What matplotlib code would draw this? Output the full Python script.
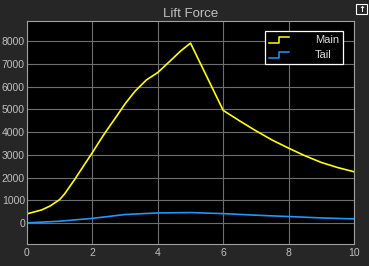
import numpy as np
import matplotlib
matplotlib.use("Agg")
import matplotlib.pyplot as plt
from matplotlib.legend_handler import HandlerBase
from matplotlib.lines import Line2D
from matplotlib.patches import Rectangle

# data
t_main = [0, 0.45, 0.7, 1.0, 1.15, 1.45, 1.75, 2.0, 2.2, 2.4, 2.7, 3.0, 3.3, 3.65,
          4.0, 4.35, 4.7, 5.0, 6.0, 6.5, 7.0, 7.5, 8.0, 8.5, 9.0, 9.5, 10.0]
main = [400, 573, 740, 1030, 1280, 1897, 2558, 3100, 3560, 4000, 4617, 5250, 5800, 6300,
        6630, 7100, 7580, 7925, 4960, 4500, 4060, 3650, 3295, 2960, 2665, 2440, 2255]
t_tail = [0, 1, 2, 3, 4, 5, 6, 7, 8, 9, 10]
tail = [0, 75, 200, 370, 440, 455, 410, 340, 280, 220, 175]

xticks = [0, 2, 4, 6, 8, 10]
yticks = [0, 1000, 2000, 3000, 4000, 5000, 6000, 7000, 8000]

fig_bg = "#262626"
text_col = "#c0c0c0"
grid_col = "#6e6e6e"
yellow = "#ffff0d"
blue = "#1e96ff"


class StepHandler(HandlerBase):
    # legend icon drawn as a little step, like the scope legend
    def create_artists(self, legend, orig, xd, yd, w, h, fontsize, trans):
        xs = [xd, xd + w * 0.5, xd + w * 0.5, xd + w]
        ys = [yd + h * 0.0, yd + h * 0.0, yd + h * 0.9, yd + h * 0.9]
        ln = Line2D(xs, ys, color=orig.get_color(), lw=1.1, transform=trans)
        return [ln]


fig = plt.figure(figsize=(3.69, 2.66), dpi=100, facecolor=fig_bg)
ax = fig.add_axes([27 / 369, 1 - 244 / 266, 327 / 369, 223 / 266])
ax.set_facecolor("black")

l1, = ax.plot(t_main, main, color=yellow, lw=1.2, label="Main")
l2, = ax.plot(t_tail, tail, color=blue, lw=1.2, label="Tail")

ax.set_xlim(0, 10)
ax.set_ylim(-930, 8900)
ax.set_xticks(xticks)
ax.set_yticks(yticks)
ax.grid(True, color=grid_col, lw=0.8)
ax.tick_params(colors=text_col, labelsize=7.5, length=0, pad=1.5)
ax.tick_params(axis="x", pad=3)
for s in ax.spines.values():
    s.set_color("#a0a0a0")
    s.set_linewidth(0.8)

ax.set_title("Lift Force", color=text_col, fontsize=9.5, pad=3,
             family="Liberation Sans")

leg = ax.legend(handles=[l1, l2], handler_map={Line2D: StepHandler()},
                loc="upper right", bbox_to_anchor=(0.966, 0.955),
                borderaxespad=0, prop={"family": "Liberation Sans", "size": 8},
                frameon=True, facecolor="black",
                edgecolor="white", labelcolor="#dcdcdc", fancybox=False,
                handlelength=1.8, handleheight=0.6, handletextpad=2.3,
                borderpad=0.35, labelspacing=0.45)
leg.get_frame().set_linewidth(0.9)
leg.get_frame().set_alpha(1)

# small undock icon at top right
fig.patches.append(Rectangle((356 / 369, 1 - 14 / 266), 11 / 369, 10 / 266,
                             transform=fig.transFigure, fill=False,
                             edgecolor="white", lw=0.8))
fig.text(361.5 / 369, 1 - 9 / 266, "\u2191", color="white", fontsize=6,
         ha="center", va="center", fontweight="bold")

for lab in ax.get_xticklabels() + ax.get_yticklabels():
    lab.set_family("Liberation Sans")

fig.savefig("out.png", dpi=100, facecolor=fig_bg)
